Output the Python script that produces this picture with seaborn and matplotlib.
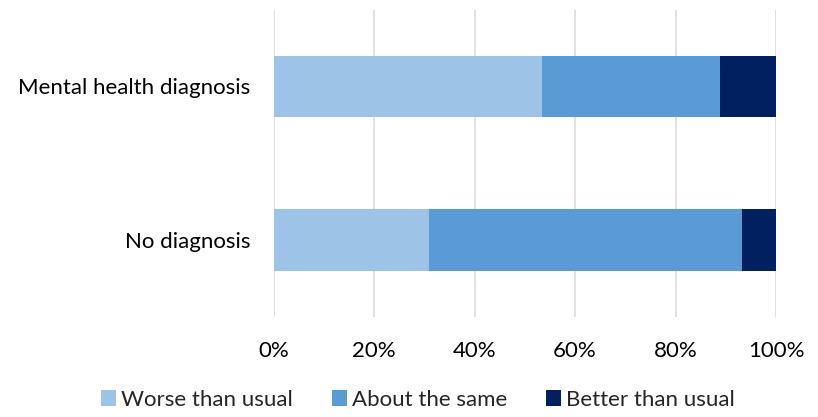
import numpy as np
import pandas as pd
import matplotlib.pyplot as plt
import seaborn as sns
from matplotlib.patches import Patch

categories = ["Mental health diagnosis", "No diagnosis"]
series_names = ["Worse than usual", "About the same", "Better than usual"]
worse = [53.4, 30.9]
same = [35.4, 62.4]
better = [11.2, 6.7]
colors = ["#9DC3E6", "#5B9BD5", "#002060"]

sns.set_theme(style="white")
plt.rcParams["font.family"] = ["Lato", "DejaVu Sans"]

fig = plt.figure(figsize=(8.18, 4.17), dpi=100)
ax = fig.add_axes([0.3344, 0.2398, 0.6143, 0.7374])

vals = np.array([worse, same, better])
cum = vals.cumsum(axis=0)
# draw cumulative totals from the back so each segment shows through
for i in range(len(series_names) - 1, -1, -1):
    df = pd.DataFrame({"cat": categories, "val": cum[i]})
    sns.barplot(data=df, x="val", y="cat", color=colors[i], width=0.4,
                saturation=1, linewidth=0, edgecolor="none", ax=ax,
                zorder=2 + (len(series_names) - i))

ax.set_xlim(0, 100)
ax.set_ylim(1.5, -0.5)
ax.set_xticks(range(0, 101, 20))
ax.set_xticklabels([f"{t}%" for t in range(0, 101, 20)])
ax.xaxis.grid(True, color="#D9D9D9", linewidth=1.1, zorder=0)
ax.set_axisbelow(True)
for s in ax.spines.values():
    s.set_visible(False)
ax.tick_params(axis="both", length=0, labelsize=16, colors="#000000")
ax.tick_params(axis="x", pad=17.5)
ax.tick_params(axis="y", pad=16.5)
ax.set_xlabel("")
ax.set_ylabel("")

handles = [Patch(facecolor=c, edgecolor="none") for c in colors]
fig.legend(handles, series_names, loc="center", ncol=3, frameon=False,
           bbox_to_anchor=(0.511, 0.041), fontsize=16, handlelength=0.68,
           handleheight=0.68, handletextpad=0.23, columnspacing=1.75,
           borderpad=0, borderaxespad=0)

fig.savefig("out.png", dpi=100)
